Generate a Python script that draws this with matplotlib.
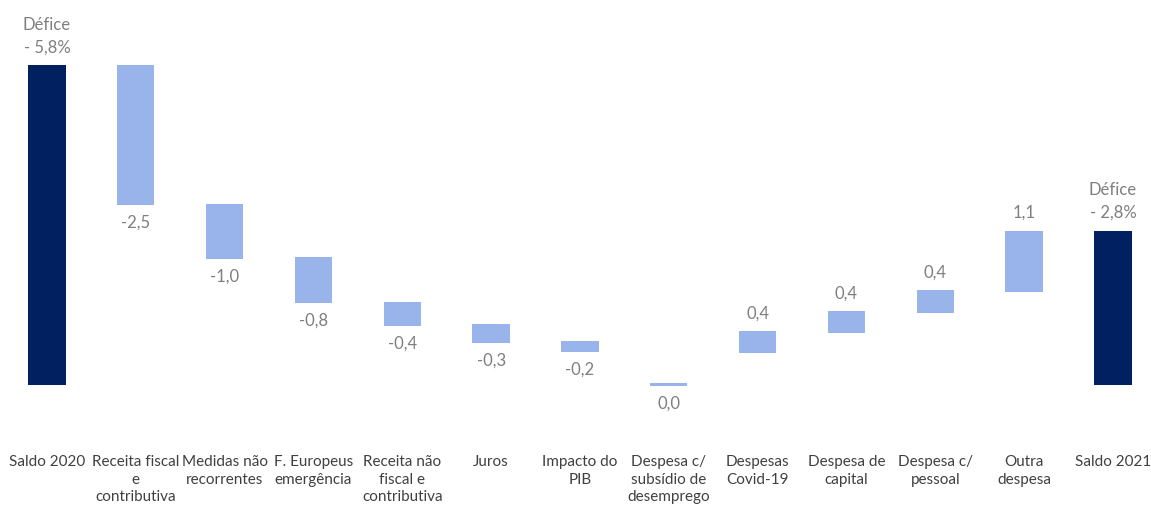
import matplotlib
matplotlib.use("Agg")
import matplotlib.pyplot as plt

categories = ["Saldo 2020", "Receita fiscal\ne\ncontributiva", "Medidas não\nrecorrentes",
              "F. Europeus\nemergência", "Receita não\nfiscal e\ncontributiva", "Juros",
              "Impacto do\nPIB", "Despesa c/\nsubsídio de\ndesemprego", "Despesas\nCovid-19",
              "Despesa de\ncapital", "Despesa c/\npessoal", "Outra\ndespesa", "Saldo 2021"]
# deficit level (% of GDP, magnitude) at start and end of each bar
bar_start = [0.0, 5.8, 3.28, 2.32, 1.5, 1.1, 0.8, 0.04, 0.58, 0.94, 1.3, 1.69, 0.0]
bar_end = [5.8, 3.26, 2.29, 1.48, 1.07, 0.77, 0.6, -0.02, 0.98, 1.34, 1.72, 2.8, 2.8]
value_labels = ["", "-2,5", "-1,0", "-0,8", "-0,4", "-0,3", "-0,2", "0,0", "0,4", "0,4", "0,4", "1,1", ""]
is_total = [True] + [False] * 11 + [True]
total_labels = {0: "Défice\n- 5,8%", 12: "Défice\n- 2,8%"}

dark = "#002060"
light = "#99B4EB"
gray = "#7F7F7F"
tick_color = "#404040"

plt.rcParams['font.family'] = ['Lato', 'DejaVu Sans']

fig = plt.figure(figsize=(11.51, 5.07), dpi=100)
ax = fig.add_axes([0, 0, 1, 1])
ax.set_xlim(-0.529, 12.428)
ax.set_ylim(-2.211, 6.978)
ax.axis('off')

x = list(range(len(categories)))
for i in x:
    lo = min(bar_start[i], bar_end[i])
    hi = max(bar_start[i], bar_end[i])
    ax.bar(i, hi - lo, bottom=lo, width=0.42, color=dark if is_total[i] else light)
    if is_total[i]:
        ax.annotate(total_labels[i], (i, hi), xytext=(0, 7), textcoords='offset points',
                    ha='center', va='bottom', fontsize=12, color=gray, linespacing=1.5)
    elif value_labels[i]:
        increase = bar_end[i] > bar_start[i]
        if increase:
            ax.annotate(value_labels[i], (i, hi), xytext=(0, 7), textcoords='offset points',
                        ha='center', va='bottom', fontsize=12, color=gray)
        else:
            ax.annotate(value_labels[i], (i, lo), xytext=(0, -7), textcoords='offset points',
                        ha='center', va='top', fontsize=12, color=gray)
    ax.text(i, -1.27, categories[i], ha='center', va='top', fontsize=11,
            color=tick_color, linespacing=1.32)

fig.savefig("out.png", dpi=100)
